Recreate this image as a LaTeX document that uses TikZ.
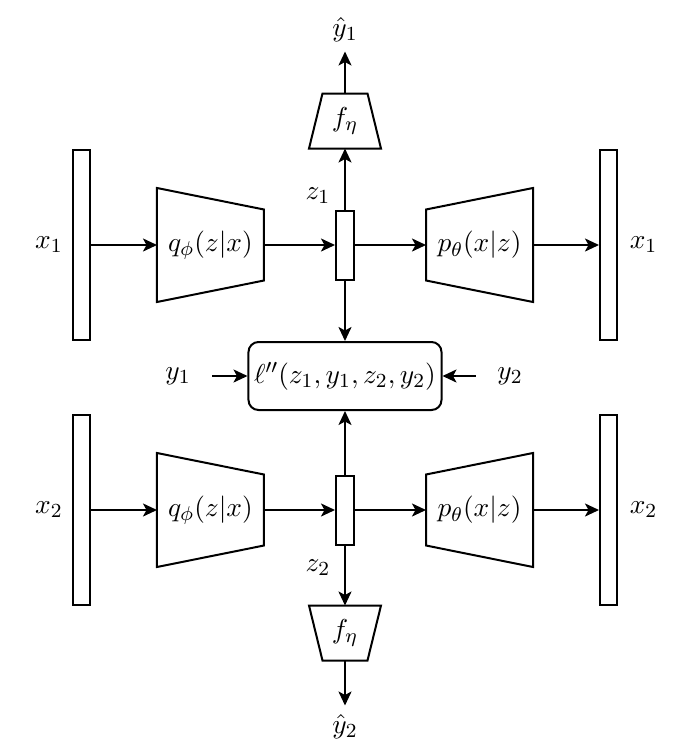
\documentclass[tikz,border=0pt]{standalone}
\usepackage{tikz}
\usetikzlibrary{positioning, arrows.meta}

% trapezoid outlines drawn round plain nodes
\newcommand{\encshape}[1]{\draw (#1.north west) -- ([yshift=-8.6pt]#1.north east)
  -- ([yshift=8.6pt]#1.south east) -- (#1.south west) -- cycle;}
\newcommand{\decshape}[1]{\draw ([yshift=-8.6pt]#1.north west) -- (#1.north east)
  -- (#1.south east) -- ([yshift=8.6pt]#1.south west) -- cycle;}
\newcommand{\headup}[1]{\draw ([xshift=5.4pt]#1.north west) -- ([xshift=-5.4pt]#1.north east)
  -- (#1.south east) -- (#1.south west) -- cycle;}
\newcommand{\headdown}[1]{\draw (#1.north west) -- (#1.north east)
  -- ([xshift=-5.4pt]#1.south east) -- ([xshift=5.4pt]#1.south west) -- cycle;}

\begin{document}
\begin{tikzpicture}[
    x=0.4pt, y=-0.4pt,
    font=\fontsize{11}{13}\selectfont,
    line width=0.8pt,
    arrow/.style={-{Stealth[length=5.6pt, width=5.2pt, inset=1.4pt]}},
    latent/.style={rectangle, draw, minimum width=7.2pt, minimum height=27.6pt, inner sep=0pt},
    datacol/.style={rectangle, draw, minimum width=6.8pt, minimum height=76pt, inner sep=0pt},
    netbox/.style={minimum width=42pt, minimum height=44.8pt, inner sep=0pt},
    headbox/.style={minimum width=28pt, minimum height=21.2pt, inner sep=0pt},
    lossbox/.style={rectangle, draw, rounded corners=4pt,
                    minimum width=77.2pt, minimum height=27.2pt, inner sep=0pt},
  ]
    \useasboundingbox (0,0) rectangle (693,755);

    % upper branch
    \node[latent] (Z1) at (345,245) {};
    \node[netbox, left=28.4pt of Z1] (Q1) {$q_\phi(z|x)$};
    \node[datacol, left=26.4pt of Q1] (X1in) {};
    \node[netbox, right=28.4pt of Z1] (P1) {$p_\theta(x|z)$};
    \node[datacol, right=26.4pt of P1] (X1out) {};
    \node[left=0pt of X1in] (X1inlab) {$x_1$};
    \node[right=1pt of X1out] (X1outlab) {$x_1$};
    \node[headbox, above=24.4pt of Z1] (F1) {$f_\eta$};
    \node (Yh1) at (345,30) {$\hat{y}_1$};
    \node (Z1lab) at (318,196) {$z_1$};
    \encshape{Q1}
    \decshape{P1}
    \headup{F1}

    % loss
    \node[lossbox] (L) at (345,376) {$\ell''(z_1,y_1,z_2,y_2)$};
    \node (Y1) at (178,376) {$y_1$};
    \node (Y2) at (510,376) {$y_2$};

    % lower branch
    \node[latent] (Z2) at (345,510) {};
    \node[netbox, left=28.4pt of Z2] (Q2) {$q_\phi(z|x)$};
    \node[datacol, left=26.4pt of Q2] (X2in) {};
    \node[netbox, right=28.4pt of Z2] (P2) {$p_\theta(x|z)$};
    \node[datacol, right=26.4pt of P2] (X2out) {};
    \node[left=0pt of X2in] (X2inlab) {$x_2$};
    \node[right=1pt of X2out] (X2outlab) {$x_2$};
    \node[headbox, below=24pt of Z2] (F2) {$f_\eta$};
    \node (Yh2) at (345,727) {$\hat{y}_2$};
    \node (Z2lab) at (318,568) {$z_2$};
    \encshape{Q2}
    \decshape{P2}
    \headdown{F2}

    % connectors
    \draw[arrow] (X1in) -- (Q1);
    \draw[arrow] (Q1) -- (Z1);
    \draw[arrow] (Z1) -- (P1);
    \draw[arrow] (P1) -- (X1out);
    \draw[arrow] (Z1) -- (F1);
    \draw[arrow] (F1) -- (Yh1);
    \draw[arrow] (Z1) -- (L);

    \draw[arrow] (X2in) -- (Q2);
    \draw[arrow] (Q2) -- (Z2);
    \draw[arrow] (Z2) -- (P2);
    \draw[arrow] (P2) -- (X2out);
    \draw[arrow] (Z2) -- (F2);
    \draw[arrow] (F2) -- (Yh2);
    \draw[arrow] (Z2) -- (L);

    \draw[arrow, shorten <=5pt] (Y1) -- (L);
    \draw[arrow, shorten <=5pt] (Y2) -- (L);
\end{tikzpicture}
\end{document}
